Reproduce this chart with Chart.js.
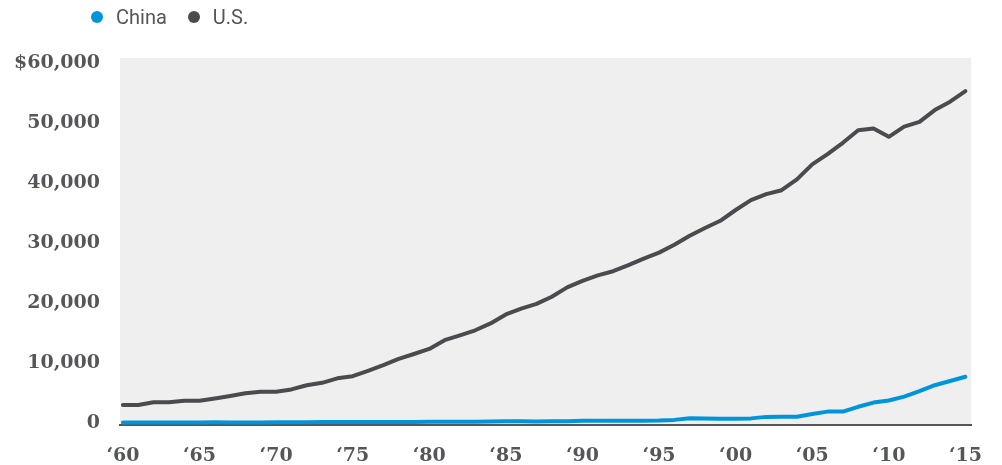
<!DOCTYPE html>
<html>
<head>
<meta charset="utf-8">
<script src="https://cdn.jsdelivr.net/npm/chart.js@4"></script>
<style>
  html, body { margin: 0; padding: 0; background: #ffffff; }
  #wrap { position: relative; width: 1002px; height: 465px; }
  #legend { position: absolute; left: 91px; top: 5px; font-family: Roboto, "Noto Sans", sans-serif; font-size: 20px; color: #55565a; display: flex; align-items: center; height: 24px; }
  .item { display: flex; align-items: center; margin-right: 21px; }
  .dot { width: 12px; height: 12px; border-radius: 50%; margin-right: 13px; }
  canvas { position: absolute; left: 0; top: 0; }
</style>
</head>
<body>
<div id="wrap">
  <canvas id="c" width="1002" height="465"></canvas>
  <div id="legend"></div>
</div>
<script>
const years = [1960,1961,1962,1963,1964,1965,1966,1967,1968,1969,
               1970,1971,1972,1973,1974,1975,1976,1977,1978,1979,
               1980,1981,1982,1983,1984,1985,1986,1987,1988,1989,
               1990,1991,1992,1993,1994,1995,1996,1997,1998,1999,
               2000,2001,2002,2003,2004,2005,2006,2007,2008,2009,
               2010,2011,2012,2013,2014,2015];
const usValues = [3000,3000,3450,3450,3700,3700,4100,4500,4950,5200,
                  5200,5600,6300,6700,7450,7800,8700,9650,10700,11500,
                  12350,13800,14600,15450,16600,18100,19050,19850,21050,22600,
                  23700,24600,25300,26300,27400,28400,29700,31200,32500,33700,
                  35500,37150,38150,38800,40600,43100,44800,46700,48800,49100,
                  47700,49400,50200,52150,53550,55300];
const chinaValues = [90,80,70,75,85,100,105,100,95,100,
                     115,120,130,155,160,180,165,185,155,185,
                     195,200,205,225,250,295,280,250,280,300,
                     380,380,380,380,380,400,520,780,760,720,
                     700,770,1020,1050,1050,1500,1900,1900,2700,3400,
                     3750,4400,5300,6300,7000,7700];
const xTickYears = [1960,1965,1970,1975,1980,1985,1990,1995,2000,2005,2010,2015];
const xTickLabels = ['\u201860','\u201865','\u201870','\u201875','\u201880','\u201885','\u201890','\u201895','\u201800','\u201805','\u201810','\u201815'];
const yTickValues = [0,10000,20000,30000,40000,50000,60000];
const yTickLabels = ['0','10,000','20,000','30,000','40,000','50,000','$60,000'];
const seriesNames = ['China','U.S.'];
const seriesColors = ['#0095da','#4a4b4f'];

// HTML legend
const lg = document.getElementById('legend');
seriesNames.forEach((n,i)=>{
  const it = document.createElement('div'); it.className='item';
  const d = document.createElement('div'); d.className='dot'; d.style.background = seriesColors[i];
  const t = document.createElement('span'); t.textContent = n;
  it.appendChild(d); it.appendChild(t); lg.appendChild(it);
});

const bgPlugin = {
  id: 'bg',
  beforeDraw(chart) {
    const {ctx, chartArea: a} = chart;
    ctx.save();
    ctx.fillStyle = '#efefef';
    ctx.fillRect(a.left, a.top, a.right - a.left, a.bottom - a.top);
    ctx.restore();
  }
};

const serif = '"DejaVu Serif", "Liberation Serif", serif';

new Chart(document.getElementById('c'), {
  type: 'line',
  data: {
    datasets: [
      { label: seriesNames[1], data: years.map((y,i)=>({x:y, y:usValues[i]})), borderColor: seriesColors[1], backgroundColor: seriesColors[1], order: 2 },
      { label: seriesNames[0], data: years.map((y,i)=>({x:y, y:chinaValues[i]})), borderColor: seriesColors[0], backgroundColor: seriesColors[0], order: 1 }
    ]
  },
  options: {
    responsive: false,
    animation: false,
    layout: { padding: { top: 58, right: 9, left: 0, bottom: 0 } },
    elements: {
      line: { borderWidth: 4, tension: 0, borderCapStyle: 'round', borderJoinStyle: 'round' },
      point: { radius: 0, hoverRadius: 0 }
    },
    plugins: { legend: { display: false }, tooltip: { enabled: false } },
    scales: {
      x: {
        type: 'linear',
        min: 1959.81,
        max: 2015.38,
        afterBuildTicks(scale) { scale.ticks = xTickYears.map(v => ({ value: v })); },
        afterFit(scale) { scale.height = 40; },
        grid: { display: false, drawTicks: false },
        border: { display: true, color: '#55565a', width: 2 },
        ticks: {
          padding: 20,
          color: '#55565a',
          font: { family: serif, size: 19, weight: 'bold' },
          maxRotation: 0,
          autoSkip: false,
          callback(v) { const i = xTickYears.indexOf(v); return i >= 0 ? xTickLabels[i] : ''; }
        }
      },
      y: {
        min: -333,
        max: 60833,
        afterBuildTicks(scale) { scale.ticks = yTickValues.map(v => ({ value: v })); },
        afterFit(scale) { scale.width = 120; },
        grid: { display: false, drawTicks: false },
        border: { display: false },
        ticks: {
          padding: 20,
          color: '#55565a',
          font: { family: serif, size: 19, weight: 'bold' },
          autoSkip: false,
          callback(v) { const i = yTickValues.indexOf(v); return i >= 0 ? yTickLabels[i] : ''; }
        }
      }
    }
  },
  plugins: [bgPlugin]
});
</script>
</body>
</html>
